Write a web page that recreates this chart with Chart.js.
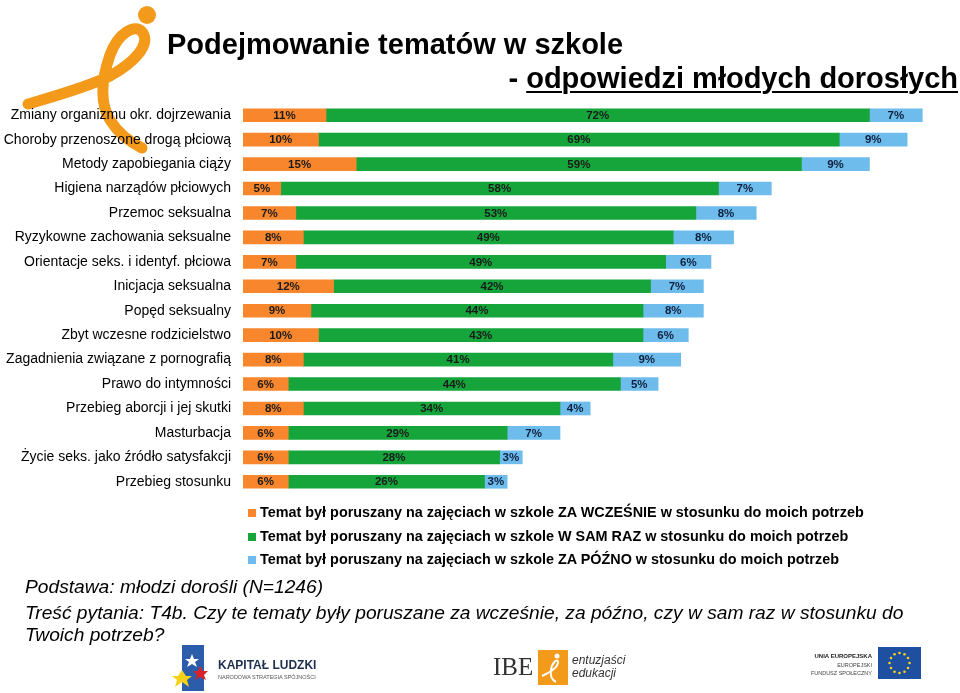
<!DOCTYPE html>
<html>
<head>
<meta charset="utf-8">
<script src="https://cdn.jsdelivr.net/npm/chart.js@4.4.0/dist/chart.umd.min.js"></script>
<style>
  html, body { margin:0; padding:0; background:#fff; }
  #wrap { position:relative; width:960px; height:693px; overflow:hidden; font-family:"Liberation Sans", Arial, sans-serif; }
  #c { position:absolute; left:0; top:0; }
  .abs { position:absolute; white-space:nowrap; }
  #t1 { left:167px; top:28px; font-size:29px; font-weight:bold; color:#000; }
  #t2 { right:2px; top:62px; font-size:29px; font-weight:bold; color:#000; }
  #t2 u { text-decoration-thickness:2px; text-underline-offset:3px; }
  .leg { left:248px; font-size:14.4px; font-weight:bold; color:#000; }
  .leg i { display:inline-block; width:8px; height:8px; margin-right:4px; vertical-align:0px; }
  .note { left:25px; font-size:19.2px; font-style:italic; color:#000; }
</style>
</head>
<body>
<div id="wrap">
  <svg class="abs" style="left:0;top:0" width="200" height="160">
    <circle cx="147" cy="15" r="9" fill="#F39A1B"/>
    <path d="M28,104 C55,96 85,88 110,76 C135,62 150,45 143,33 C136,22 118,33 110,55 C103,75 98,100 110,120 C118,133 130,142 142,148" fill="none" stroke="#F39A1B" stroke-width="11" stroke-linecap="round"/>
  </svg>
  <canvas id="c" width="960" height="693"></canvas>
  <div class="abs" id="t1">Podejmowanie tematów w szkole</div>
  <div class="abs" id="t2">- <u>odpowiedzi młodych dorosłych</u></div>
  <div class="abs leg" style="top:504px"><i style="background:#F7862C"></i>Temat był poruszany na zajęciach w szkole ZA WCZEŚNIE w stosunku do moich potrzeb</div>
  <div class="abs leg" style="top:528px"><i style="background:#15A53B"></i>Temat był poruszany na zajęciach w szkole W SAM RAZ w stosunku do moich potrzeb</div>
  <div class="abs leg" style="top:551px"><i style="background:#6DBCEB"></i>Temat był poruszany na zajęciach w szkole ZA PÓŹNO w stosunku do moich potrzeb</div>
  <div class="abs note" style="top:576px">Podstawa: młodzi dorośli (N=1246)</div>
  <div class="abs note" style="top:602px">Treść pytania: T4b. Czy te tematy były poruszane za wcześnie, za późno, czy w sam raz w stosunku do</div>
  <div class="abs note" style="top:624px">Twoich potrzeb?</div>
  <!-- logos -->
  <svg class="abs" style="left:170px;top:640px" width="160" height="53">
    <rect x="12" y="5" width="22" height="46" fill="#2B5DAA"/>
    <polygon points="22,14 24,19 29,19 25,22 27,27 22,24 17,27 19,22 15,19 20,19" fill="#fff"/>
    <polygon points="12,30 16,36 22,36 17,40 19,47 12,42 5,47 7,40 2,36 8,36" fill="#F5D218"/>
    <polygon points="30,26 33,31 38,31 34,35 36,40 30,37 25,40 27,35 23,31 28,31" fill="#D8232A"/>
    <text x="48" y="29" font-family="Liberation Sans, Arial" font-size="12" font-weight="bold" fill="#1E2F4F">KAPITAŁ LUDZKI</text>
    <text x="48" y="39" font-family="Liberation Sans, Arial" font-size="5.5" fill="#555">NARODOWA STRATEGIA SPÓJNOŚCI</text>
  </svg>
  <svg class="abs" style="left:480px;top:640px" width="150" height="53">
    <text x="13" y="35" font-family="Liberation Serif, Times New Roman" font-size="25" fill="#333">IBE</text>
    <rect x="58" y="10" width="30" height="35" fill="#F39A1B"/>
    <circle cx="77" cy="16" r="2.5" fill="#fff"/>
    <path d="M62,36 C70,32 78,28 78,22 C78,18 72,22 71,30 C70,36 72,40 76,42" fill="none" stroke="#fff" stroke-width="2"/>
    <text x="92" y="24" font-family="Liberation Sans, Arial" font-size="12" font-style="italic" fill="#333">entuzjaści</text>
    <text x="92" y="37" font-family="Liberation Sans, Arial" font-size="12" font-style="italic" fill="#333">edukacji</text>
  </svg>
  <svg class="abs" style="left:800px;top:640px" width="130" height="53">
    <text x="72" y="18" text-anchor="end" font-family="Liberation Sans, Arial" font-size="6" font-weight="bold" fill="#222">UNIA EUROPEJSKA</text>
    <text x="72" y="27" text-anchor="end" font-family="Liberation Sans, Arial" font-size="5.5" fill="#444">EUROPEJSKI</text>
    <text x="72" y="35" text-anchor="end" font-family="Liberation Sans, Arial" font-size="5.5" fill="#444">FUNDUSZ SPOŁECZNY</text>
    <rect x="78" y="7" width="43" height="32" fill="#1F4FA0"/>
    <g fill="#F5D218">
      <circle cx="99.5" cy="13" r="1.3"/><circle cx="104.5" cy="14.3" r="1.3"/><circle cx="108" cy="18" r="1.3"/>
      <circle cx="109.5" cy="23" r="1.3"/><circle cx="108" cy="28" r="1.3"/><circle cx="104.5" cy="31.7" r="1.3"/>
      <circle cx="99.5" cy="33" r="1.3"/><circle cx="94.5" cy="31.7" r="1.3"/><circle cx="91" cy="28" r="1.3"/>
      <circle cx="89.5" cy="23" r="1.3"/><circle cx="91" cy="18" r="1.3"/><circle cx="94.5" cy="14.3" r="1.3"/>
    </g>
  </svg>
</div>
<script>
const categories = [
  "Zmiany organizmu okr. dojrzewania",
  "Choroby przenoszone drogą płciową",
  "Metody zapobiegania ciąży",
  "Higiena narządów płciowych",
  "Przemoc seksualna",
  "Ryzykowne zachowania seksualne",
  "Orientacje seks. i identyf. płciowa",
  "Inicjacja seksualna",
  "Popęd seksualny",
  "Zbyt wczesne rodzicielstwo",
  "Zagadnienia związane z pornografią",
  "Prawo do intymności",
  "Przebieg aborcji i jej skutki",
  "Masturbacja",
  "Życie seks. jako źródło satysfakcji",
  "Przebieg stosunku"
];
const tooEarly = [11, 10, 15, 5, 7, 8, 7, 12, 9, 10, 8, 6, 8, 6, 6, 6];
const justRight = [72, 69, 59, 58, 53, 49, 49, 42, 44, 43, 41, 44, 34, 29, 28, 26];
const tooLate = [7, 9, 9, 7, 8, 8, 6, 7, 8, 6, 9, 5, 4, 7, 3, 3];
const seriesNames = [
  "Temat był poruszany na zajęciach w szkole ZA WCZEŚNIE w stosunku do moich potrzeb",
  "Temat był poruszany na zajęciach w szkole W SAM RAZ w stosunku do moich potrzeb",
  "Temat był poruszany na zajęciach w szkole ZA PÓŹNO w stosunku do moich potrzeb"
];
const colors = ["#F7862C", "#15A53B", "#6DBCEB"];
const labelColors = ["#1a1a1a", "#1a1a1a", "#0f1f3d"];

const segLabels = {
  id: 'segLabels',
  afterDatasetsDraw(chart) {
    const ctx = chart.ctx;
    ctx.save();
    ctx.font = "bold 11.5px 'Liberation Sans', Arial, sans-serif";
    ctx.textAlign = 'center';
    ctx.textBaseline = 'middle';
    chart.data.datasets.forEach((ds, di) => {
      const meta = chart.getDatasetMeta(di);
      ctx.fillStyle = labelColors[di];
      meta.data.forEach((el, i) => {
        const x = (el.x + el.base) / 2;
        ctx.fillText(ds.data[i] + '%', x, el.y + 0.5);
      });
    });
    ctx.restore();
  }
};

new Chart(document.getElementById('c'), {
  type: 'bar',
  data: {
    labels: categories,
    datasets: [
      { label: seriesNames[0], data: tooEarly, backgroundColor: colors[0] },
      { label: seriesNames[1], data: justRight, backgroundColor: colors[1] },
      { label: seriesNames[2], data: tooLate, backgroundColor: colors[2] }
    ]
  },
  options: {
    indexAxis: 'y',
    responsive: false,
    animation: false,
    devicePixelRatio: 1,
    layout: { padding: { top: 103, bottom: 199, left: 0, right: 0 } },
    datasets: { bar: { barThickness: 13, borderWidth: 0 } },
    plugins: { legend: { display: false }, tooltip: { enabled: false } },
    scales: {
      x: { stacked: true, min: 0, max: 95, display: false },
      y: {
        stacked: true,
        grid: { display: false, drawTicks: false },
        border: { display: false },
        ticks: {
          padding: 12,
          color: '#000',
          font: { family: "'Liberation Sans', Arial, sans-serif", size: 14 }
        },
        afterFit(scale) { scale.width = 243; }
      }
    }
  },
  plugins: [segLabels]
});
</script>
</body>
</html>
